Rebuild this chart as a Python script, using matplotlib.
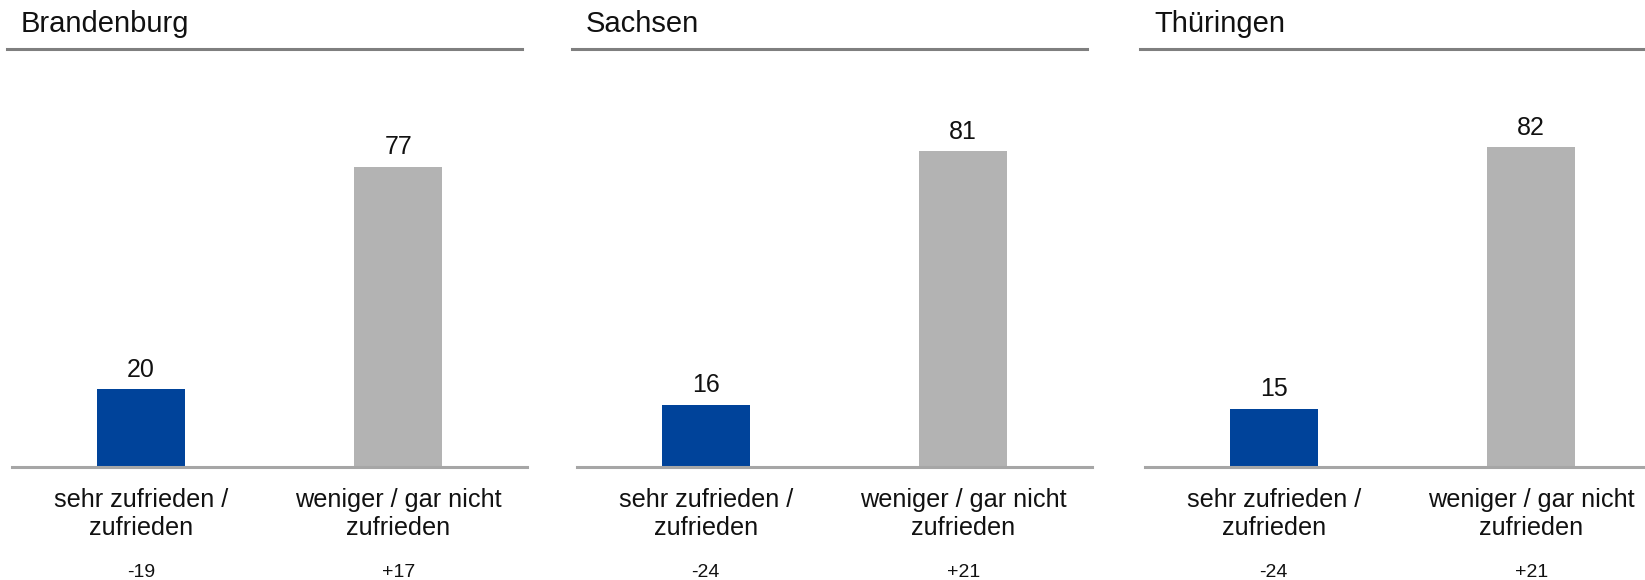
import numpy as np
import matplotlib
matplotlib.use("Agg")
import matplotlib.pyplot as plt
from matplotlib.lines import Line2D

plt.rcParams['font.family'] = ['Liberation Sans', 'DejaVu Sans']

# data
states = ['Brandenburg', 'Sachsen', 'Thüringen']
categories = ['sehr zufrieden /\nzufrieden', 'weniger / gar nicht\nzufrieden']
values = {
    'Brandenburg': [20, 77],
    'Sachsen': [16, 81],
    'Thüringen': [15, 82],
}
changes = {
    'Brandenburg': ['-19', '+17'],
    'Sachsen': ['-24', '+21'],
    'Thüringen': ['-24', '+21'],
}

bar_colors = ['#00439A', '#B3B3B3']
text_col = '#111111'

W, H = 1645, 580
fig = plt.figure(figsize=(W / 100, H / 100), dpi=100)

# layout in pixels
lefts = [12, 577, 1145]
ax_w = 515
base_y = 467      # baseline from top
ax_h = 390        # 0..100 scale
title_line_y = 49

x = np.arange(len(categories))

for st, left in zip(states, lefts):
    ax = fig.add_axes([left / W, 1 - base_y / H, ax_w / W, ax_h / H])
    vals = values[st]
    ax.bar(x, vals, width=0.34, color=bar_colors, zorder=2)
    ax.set_xlim(-0.5, 1.5)
    ax.set_ylim(0, 100)
    for s in ['top', 'right', 'left']:
        ax.spines[s].set_visible(False)
    ax.spines['bottom'].set_color('#A6A6A6')
    ax.spines['bottom'].set_linewidth(2.2)
    ax.set_yticks([])
    ax.set_xticks(x, categories, fontsize=18.2, color=text_col, linespacing=1.2)
    ax.tick_params(axis='x', length=0, pad=15)

    for i, v in enumerate(vals):
        ax.annotate(str(v), xy=(i, v), xytext=(0, 14), textcoords='offset points',
                    ha='center', va='center', fontsize=18, color=text_col)
        ax.annotate(changes[st][i], xy=(i, 0), xycoords=('data', 'axes fraction'),
                    xytext=(0, -76), textcoords='offset points',
                    ha='center', va='center', fontsize=14, color=text_col)

    # panel title with rule
    fig.text((left + 9) / W, 1 - 24 / H, st, ha='left', va='center',
             fontsize=21, color=text_col)
    fig.add_artist(Line2D([(left - 5) / W, (left + 510) / W],
                          [1 - title_line_y / H] * 2, color='#7F7F7F', lw=2.2))

fig.savefig('out.png', dpi=100, facecolor='white')
